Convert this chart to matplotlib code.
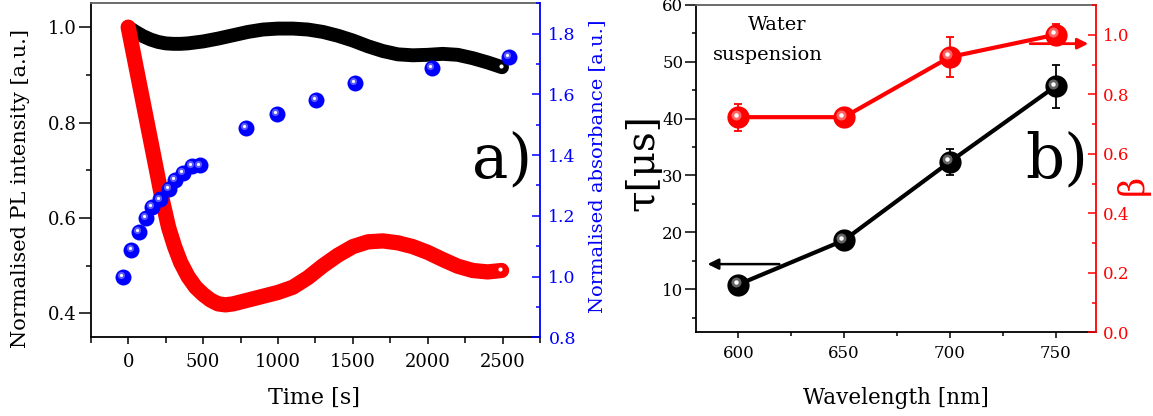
import numpy as np
import matplotlib
matplotlib.use('Agg')
import matplotlib.pyplot as plt
from matplotlib.transforms import offset_copy
from matplotlib.ticker import MultipleLocator

plt.rcParams['font.family'] = ['DejaVu Serif']

# ---- panel a) data ----
t_red = [0, 60, 120, 180, 230, 270, 310, 350, 400, 450, 500, 550, 600, 650,
         700, 800, 900, 1000, 1100, 1200, 1300, 1400, 1500, 1600, 1700, 1800,
         1900, 2000, 2100, 2200, 2300, 2400, 2493]
pl_red = [1.0, 0.905, 0.81, 0.715, 0.635, 0.58, 0.54, 0.507, 0.477, 0.455,
          0.44, 0.428, 0.42, 0.418, 0.42, 0.428, 0.436, 0.444, 0.455, 0.475,
          0.5, 0.522, 0.54, 0.55, 0.552, 0.548, 0.54, 0.528, 0.513, 0.499,
          0.49, 0.487, 0.49]
t_black = [0, 50, 100, 150, 200, 250, 300, 350, 400, 500, 600, 700, 800, 900,
           1000, 1100, 1200, 1300, 1400, 1500, 1600, 1700, 1800, 1900, 2000,
           2100, 2200, 2300, 2400, 2496]
pl_black = [1.0, 0.99, 0.981, 0.974, 0.969, 0.966, 0.965, 0.965, 0.966, 0.97,
            0.976, 0.983, 0.99, 0.995, 0.997, 0.997, 0.995, 0.99, 0.982, 0.972,
            0.96, 0.95, 0.943, 0.941, 0.942, 0.944, 0.942, 0.935, 0.926, 0.916]
t_abs = [-33, 22, 71, 120, 160, 215, 271, 315, 367, 427, 482, 787, 993, 1255,
         1515, 2027, 2544]
absorb = [1.0, 1.088, 1.146, 1.194, 1.229, 1.254, 1.289, 1.317, 1.341, 1.364,
          1.366, 1.49, 1.536, 1.582, 1.637, 1.686, 1.724]

# ---- panel b) data ----
wl = [600, 650, 700, 750]
tau = [10.8, 18.6, 32.4, 45.7]
tau_err = [0.6, 0.8, 2.3, 3.8]
beta = [0.723, 0.723, 0.925, 1.0]
beta_err = [0.045, 0.02, 0.068, 0.036]

BLUE = '#0000ff'
RED = '#ff0000'


def spheres(ax, x, y, color, ms, mid, z=5):
    # shaded ball markers: base disc, soft lighter core, white highlight
    ax.plot(x, y, 'o', ms=ms, color=color, mec=color, mew=0, zorder=z,
            clip_on=False)
    off = offset_copy(ax.transData, fig=ax.figure, x=-ms * 0.12, y=ms * 0.12,
                      units='points')
    ax.plot(x, y, 'o', ms=ms * 0.45, color=mid, mew=0, alpha=0.7,
            transform=off, zorder=z + 0.1, clip_on=False)
    ax.plot(x, y, 'o', ms=ms * 0.2, color='white', mew=0, transform=off,
            zorder=z + 0.2, clip_on=False)


fig = plt.figure(figsize=(11.53, 4.16), dpi=100)

# ================= panel a =================
ax1 = fig.add_axes([0.0787, 0.1892, 0.3897, 0.8029])
ax1b = ax1.twinx()

ax1.plot(t_black, pl_black, '-', color='black', lw=10, solid_capstyle='round',
         solid_joinstyle='round', zorder=3)
ax1.plot(t_red, pl_red, '-', color=RED, lw=11, solid_capstyle='round',
         solid_joinstyle='round', zorder=4)
# highlight on the last balls of the dense curves
for tt, pp in [(t_black, pl_black), (t_red, pl_red)]:
    off = offset_copy(ax1.transData, fig=fig, x=-1, y=1, units='points')
    ax1.plot(tt[-1], pp[-1], 'o', ms=3, color='white', mew=0, transform=off,
             zorder=6)

spheres(ax1b, t_abs, absorb, BLUE, 11.5, '#8080ff')

ax1.set_xlim(-250, 2750)
ax1.set_ylim(0.35, 1.05)
ax1b.set_ylim(0.8, 1.9)

ax1.xaxis.set_major_locator(MultipleLocator(500))
ax1.xaxis.set_minor_locator(MultipleLocator(250))
ax1.yaxis.set_major_locator(MultipleLocator(0.2))
ax1.yaxis.set_minor_locator(MultipleLocator(0.1))
ax1b.yaxis.set_major_locator(MultipleLocator(0.2))
ax1b.yaxis.set_minor_locator(MultipleLocator(0.1))
ax1.yaxis.set_major_formatter('{x:.1f}')
ax1b.yaxis.set_major_formatter('{x:.1f}')

ax1.tick_params(axis='x', which='major', length=5, width=1.1, direction='out',
                pad=6, labelsize=13)
ax1.tick_params(axis='x', which='minor', length=4, width=1.1, direction='out')
ax1.tick_params(axis='y', which='major', length=9, width=1.1, direction='out',
                pad=1, labelsize=13)
ax1.tick_params(axis='y', which='minor', length=3.5, width=1.1, direction='out')
ax1b.tick_params(axis='y', which='major', length=6, width=1.1, direction='in',
                 pad=6, labelsize=12.5, colors=BLUE)
ax1b.tick_params(axis='y', which='minor', length=3, width=1.1, direction='in',
                 colors=BLUE)

for s in ['left', 'bottom']:
    ax1.spines[s].set_linewidth(1.3)
ax1.spines['top'].set_color('#606060')
ax1.spines['top'].set_linewidth(1.3)
ax1.spines['right'].set_visible(False)
for s in ['left', 'top', 'bottom']:
    ax1b.spines[s].set_visible(False)
ax1b.spines['right'].set_color(BLUE)
ax1b.spines['right'].set_linewidth(1.3)

ax1.set_xlabel('Time [s]', fontsize=16)
ax1.xaxis.set_label_coords(0.497, -0.182)
ax1.xaxis.label.set_va('center')
ax1.set_ylabel('Normalised PL intensity [a.u.]', fontsize=15)
ax1.yaxis.set_label_coords(-0.157, 0.444)
ax1.yaxis.label.set_va('center')
ax1b.set_ylabel('Normalised absorbance [a.u.]', fontsize=14, color=BLUE)
ax1b.yaxis.set_label_coords(1.127, 0.513)
ax1b.yaxis.label.set_va('center')

ax1.text(0.915, 0.531, 'a)', transform=ax1.transAxes, fontsize=44,
         ha='center', va='center')

# ================= panel b =================
ax2 = fig.add_axes([0.6036, 0.2012, 0.3467, 0.7868])
ax2b = ax2.twinx()

ax2.errorbar(wl, tau, yerr=tau_err, fmt='-', color='black', lw=3,
             ecolor='black', elinewidth=1.3, capsize=3, capthick=1.3, zorder=3)
spheres(ax2, wl, tau, 'black', 16, '#909090')
ax2b.errorbar(wl, beta, yerr=beta_err, fmt='-', color=RED, lw=3,
              ecolor=RED, elinewidth=1.3, capsize=3, capthick=1.3, zorder=3)
spheres(ax2b, wl, beta, RED, 16, '#ff9090')

ax2.annotate('', xy=(585.5, 14.4), xytext=(619.4, 14.4),
             arrowprops=dict(arrowstyle='-|>', color='black', lw=1.8,
                             mutation_scale=16, shrinkA=0, shrinkB=0))
ax2b.annotate('', xy=(765.5, 0.97), xytext=(738, 0.97),
              arrowprops=dict(arrowstyle='-|>', color=RED, lw=2,
                              mutation_scale=16, shrinkA=0, shrinkB=0))

ax2.set_xlim(580, 769)
ax2.set_ylim(2.4, 60)
ax2b.set_ylim(0, 1.1)

ax2.xaxis.set_major_locator(MultipleLocator(50))
ax2.xaxis.set_minor_locator(MultipleLocator(25))
ax2.yaxis.set_major_locator(MultipleLocator(10))
ax2.yaxis.set_minor_locator(MultipleLocator(5))
ax2b.yaxis.set_major_locator(MultipleLocator(0.2))
ax2b.yaxis.set_minor_locator(MultipleLocator(0.1))
ax2b.yaxis.set_major_formatter('{x:.1f}')

ax2.tick_params(axis='x', which='major', length=4, width=1.1, direction='out',
                pad=5, labelsize=12)
ax2.tick_params(axis='x', which='minor', length=3, width=1.1, direction='out')
ax2.tick_params(axis='y', which='major', length=8, width=1.1, direction='out',
                pad=1, labelsize=12)
ax2.tick_params(axis='y', which='minor', length=3, width=1.1, direction='out')
ax2b.tick_params(axis='y', which='major', length=6, width=1.1, direction='in',
                 pad=5, labelsize=12, colors=RED)
ax2b.tick_params(axis='y', which='minor', length=3, width=1.1, direction='in',
                 colors=RED)

for s in ['left', 'bottom']:
    ax2.spines[s].set_linewidth(1.3)
ax2.spines['top'].set_color('#606060')
ax2.spines['top'].set_linewidth(1.3)
ax2.spines['right'].set_visible(False)
for s in ['left', 'top', 'bottom']:
    ax2b.spines[s].set_visible(False)
ax2b.spines['right'].set_color(RED)
ax2b.spines['right'].set_linewidth(1.3)

ax2.set_xlabel('Wavelength [nm]', fontsize=15.5)
ax2.xaxis.set_label_coords(0.5, -0.2)
ax2.xaxis.label.set_va('center')
ax2.set_ylabel('τ[μs]', fontsize=28)
ax2.yaxis.set_label_coords(-0.133, 0.52)
ax2.yaxis.label.set_va('center')
ax2b.set_ylabel('β', fontsize=25, color=RED)
ax2b.yaxis.set_label_coords(1.093, 0.45)
ax2b.yaxis.label.set_va('center')

ax2.text(618.2, 56.5, 'Water', fontsize=14, ha='center', va='center')
ax2.text(614.2, 51.2, 'suspension', fontsize=14, ha='center', va='center')
ax2.text(0.903, 0.526, 'b)', transform=ax2.transAxes, fontsize=44,
         ha='center', va='center')

fig.savefig('out.png', dpi=100)
